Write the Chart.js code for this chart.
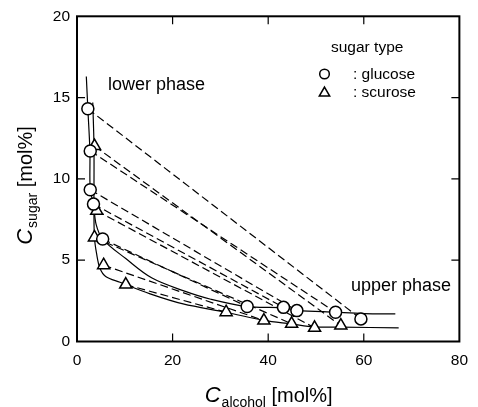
<!DOCTYPE html>
<html>
<head>
<meta charset="utf-8">
<script src="https://cdn.jsdelivr.net/npm/chart.js@4/dist/chart.umd.min.js"></script>
<style>
    body { margin: 0; background: #fff; }
    #wrap { width: 478px; height: 407px; position: relative; }
</style>
</head>
<body>
<div id="wrap"><canvas id="chart"></canvas></div>
<script>
// axis ticks
const xTicks = [0, 20, 40, 60, 80];
const yTicks = [0, 5, 10, 15, 20];

// glucose: measured points (lower phase / upper phase)
const glucoseLowerX = [2.27, 2.77, 2.77, 3.45, 5.37];
const glucoseLowerY = [14.31, 11.72, 9.33, 8.45, 6.30];
const glucoseUpperX = [59.4, 54.1, 46.0, 43.2, 35.6];
const glucoseUpperY = [1.39, 1.80, 1.90, 2.10, 2.15];

// sucrose ("scurose" in the figure)
const sucroseLowerX = [3.67, 4.13, 3.65, 5.57, 10.2];
const sucroseLowerY = [12.02, 8.04, 6.40, 4.69, 3.50];
const sucroseUpperX = [55.2, 49.7, 44.9, 39.1, 31.2];
const sucroseUpperY = [0.98, 0.84, 1.09, 1.29, 1.80];

// binodal curves (solid)
const glucoseCurveX = [1.95, 2.27, 2.7, 2.77, 3.45, 4.0, 5.37, 10.2, 15.7, 22.5, 28, 35.6, 43.2, 46.0, 54.1, 60, 66.6];
const glucoseCurveY = [16.3, 14.31, 11.72, 9.33, 8.45, 7.2, 6.3, 5.1, 3.9, 3.1, 2.6, 2.15, 2.08, 1.92, 1.8, 1.72, 1.7];
const sucroseCurveX = [3.3, 3.55, 3.55, 3.65, 4.1, 4.8, 6.0, 9.0, 15.3, 22.2, 31.2, 39.1, 44.9, 49.7, 55.2, 67.3];
const sucroseCurveY = [14.7, 12.0, 8.0, 6.4, 5.4, 4.5, 4.0, 3.64, 2.93, 2.31, 1.8, 1.3, 1.08, 0.9, 0.88, 0.84];

const FONT = '"Liberation Sans", Arial, sans-serif';

function toPoints(xs, ys) {
    return xs.map((x, i) => ({ x: x, y: ys[i] }));
}

function tieLines(lx, ly, ux, uy) {
    return lx.map((x, i) => ({
        data: [{ x: x, y: ly[i] }, { x: ux[i], y: uy[i] }],
        showLine: true,
        borderColor: '#000',
        borderWidth: 1.2,
        borderDash: [8, 4],
        pointRadius: 0,
        order: 2
    }));
}

function curve(xs, ys) {
    return {
        data: toPoints(xs, ys),
        showLine: true,
        borderColor: '#000',
        borderWidth: 1.2,
        tension: 0.35,
        pointRadius: 0,
        order: 1
    };
}

function markers(xs, ys, style, r) {
    return {
        data: toPoints(xs, ys),
        showLine: false,
        pointStyle: style,
        pointRadius: r,
        pointBackgroundColor: '#fff',
        pointBorderColor: '#000',
        pointBorderWidth: 1.5,
        order: 0
    };
}

const datasets = [
    ...tieLines(glucoseLowerX, glucoseLowerY, glucoseUpperX, glucoseUpperY),
    ...tieLines(sucroseLowerX, sucroseLowerY, sucroseUpperX, sucroseUpperY),
    curve(glucoseCurveX, glucoseCurveY),
    curve(sucroseCurveX, sucroseCurveY),
    markers(glucoseLowerX.concat(glucoseUpperX), glucoseLowerY.concat(glucoseUpperY), 'circle', 6),
    markers(sucroseLowerX.concat(sucroseUpperX), sucroseLowerY.concat(sucroseUpperY), 'triangle', 7)
];

// frame, inner ticks, titles, legend and labels
const decorations = {
    id: 'decorations',
    afterDraw(chart) {
        const ctx = chart.ctx;
        const a = chart.chartArea;
        const xs = chart.scales.x, ys = chart.scales.y;
        ctx.save();
        ctx.strokeStyle = '#000';
        ctx.lineWidth = 2;
        ctx.strokeRect(a.left, a.top, a.right - a.left, a.bottom - a.top);

        ctx.lineWidth = 1.2;
        ctx.beginPath();
        xTicks.slice(1, -1).forEach(v => {
            const px = xs.getPixelForValue(v);
            ctx.moveTo(px, a.bottom); ctx.lineTo(px, a.bottom - 8);
            ctx.moveTo(px, a.top); ctx.lineTo(px, a.top + 8);
        });
        yTicks.slice(1, -1).forEach(v => {
            const py = ys.getPixelForValue(v);
            ctx.moveTo(a.left, py); ctx.lineTo(a.left + 8, py);
            ctx.moveTo(a.right, py); ctx.lineTo(a.right - 8, py);
        });
        ctx.stroke();

        ctx.fillStyle = '#000';
        ctx.textBaseline = 'alphabetic';
        ctx.textAlign = 'left';

        // axis titles
        const drawTitle = (sub) => {
            const parts = [
                { t: 'C', f: 'italic 22px ' + FONT, dy: 0 },
                { t: sub, f: '14px ' + FONT, dy: 4.5 },
                { t: ' [mol%]', f: '20px ' + FONT, dy: 0 }
            ];
            let w = 0;
            parts.forEach(p => { ctx.font = p.f; p.w = ctx.measureText(p.t).width; w += p.w; });
            let x = -w / 2;
            parts.forEach(p => { ctx.font = p.f; ctx.fillText(p.t, x, p.dy); x += p.w + (p.t === 'C' ? 1 : 0); });
        };
        ctx.save();
        ctx.translate((a.left + a.right) / 2, 402);
        drawTitle('alcohol');
        ctx.restore();
        ctx.save();
        ctx.translate(32, 186);
        ctx.rotate(-Math.PI / 2);
        drawTitle('sugar');
        ctx.restore();

        // region labels
        ctx.font = '18px ' + FONT;
        ctx.fillText('lower phase', 108, 90);
        ctx.fillText('upper phase', 351, 291);

        // legend
        ctx.font = '15.5px ' + FONT;
        ctx.fillText('sugar type', 331, 52);
        ctx.fillText(': glucose', 353, 79);
        ctx.fillText(': scurose', 353, 97);
        ctx.lineWidth = 1.5;
        ctx.beginPath();
        ctx.arc(324.5, 74, 4.8, 0, Math.PI * 2);
        ctx.stroke();
        const r = 6;
        ctx.beginPath();
        ctx.moveTo(324.5, 93 - r);
        ctx.lineTo(324.5 + r * Math.sin(Math.PI * 2 / 3), 93 + r / 2);
        ctx.lineTo(324.5 - r * Math.sin(Math.PI * 2 / 3), 93 + r / 2);
        ctx.closePath();
        ctx.stroke();
        ctx.restore();
    }
};

new Chart(document.getElementById('chart'), {
    type: 'scatter',
    data: { datasets: datasets },
    options: {
        responsive: true,
        maintainAspectRatio: false,
        animation: false,
        layout: { padding: { top: 15, right: 11, left: 0, bottom: 0 } },
        plugins: {
            legend: { display: false },
            tooltip: { enabled: false }
        },
        scales: {
            x: {
                type: 'linear',
                min: 0, max: 80,
                afterFit: s => { s.height = 65.5; },
                afterBuildTicks: s => { s.ticks = xTicks.map(v => ({ value: v })); },
                grid: { display: false, drawTicks: false },
                border: { display: false },
                ticks: { color: '#000', padding: 10, maxRotation: 0, font: { family: FONT, size: 15.5 } }
            },
            y: {
                type: 'linear',
                min: 0, max: 20,
                afterFit: s => { s.width = 77; },
                afterBuildTicks: s => { s.ticks = yTicks.map(v => ({ value: v })); },
                grid: { display: false, drawTicks: false },
                border: { display: false },
                ticks: { color: '#000', padding: 7, font: { family: FONT, size: 15.5 } }
            }
        }
    },
    plugins: [decorations]
});
</script>
</body>
</html>
